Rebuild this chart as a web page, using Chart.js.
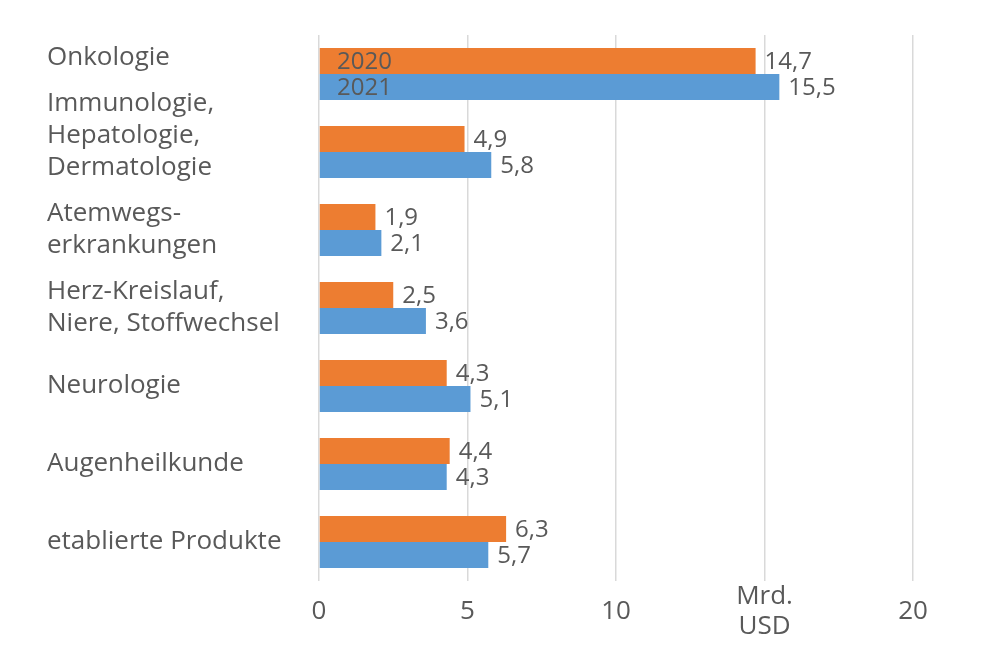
<!DOCTYPE html>
<html>
<head>
<meta charset="utf-8">
<script src="https://cdn.jsdelivr.net/npm/chart.js@4"></script>
<style>
  html, body { margin: 0; padding: 0; background: #fff; }
  #wrap { width: 1000px; height: 662px; }
</style>
</head>
<body>
<div id="wrap"><canvas id="mycanvas" width="1000" height="662"></canvas></div>
<script>
// Umsatz nach Therapiegebiet, Mrd. USD
var categories = [
  ['Onkologie', ''],
  ['Immunologie,', 'Hepatologie,', 'Dermatologie', ''],
  ['Atemwegs-', 'erkrankungen'],
  ['Herz-Kreislauf,', 'Niere, Stoffwechsel'],
  'Neurologie',
  'Augenheilkunde',
  'etablierte Produkte'
];
var values2020 = [14.7, 4.9, 1.9, 2.5, 4.3, 4.4, 6.3];
var values2021 = [15.5, 5.8, 2.1, 3.6, 5.1, 4.3, 5.7];
var seriesNames = ['2020', '2021'];
var xTicks = [0, 5, 10, 15, 20];
var xTickLabels = ['0', '5', '10', ['Mrd.', 'USD'], '20'];

var textColor = '#595959';
var fontFamily = '"Open Sans", "Noto Sans", sans-serif';

function fmt(v) {
  return v.toFixed(1).replace('.', ',');
}

// value labels next to bars + series names inside the first bars
var barLabels = {
  id: 'barLabels',
  afterDatasetsDraw: function(chart) {
    var ctx = chart.ctx;
    ctx.save();
    ctx.fillStyle = textColor;
    ctx.textBaseline = 'middle';
    chart.data.datasets.forEach(function(ds, di) {
      var meta = chart.getDatasetMeta(di);
      meta.data.forEach(function(bar, i) {
        ctx.font = '24px ' + fontFamily;
        ctx.textAlign = 'left';
        ctx.fillText(fmt(ds.data[i]), bar.x + 9, bar.y + 1);
        if (i === 0) {
          ctx.font = '24px ' + fontFamily;
          ctx.fillText(seriesNames[di], chart.chartArea.left + 18, bar.y + 1);
        }
      });
    });
    ctx.restore();
  }
};

var chartdata = {
  labels: categories,
  datasets: [
    {
      label: seriesNames[0],
      backgroundColor: '#ED7D31',
      data: values2020
    },
    {
      label: seriesNames[1],
      backgroundColor: '#5B9BD5',
      data: values2021
    }
  ]
};

var options = {
  indexAxis: 'y',
  responsive: false,
  animation: false,
  layout: { padding: { left: 47, top: 35, right: 87, bottom: 0 } },
  datasets: {
    bar: { barPercentage: 1, categoryPercentage: 0.667 }
  },
  plugins: {
    legend: { display: false },
    tooltip: { enabled: false }
  },
  scales: {
    x: {
      min: 0,
      max: 20,
      afterBuildTicks: function(scale) {
        scale.ticks = xTicks.map(function(v) { return { value: v }; });
      },
      afterFit: function(scale) { scale.height = 81; },
      grid: { color: '#d9d9d9', lineWidth: 1.5, drawTicks: false },
      border: { display: false },
      ticks: {
        crossAlign: 'center',
        padding: 16,
        color: textColor,
        font: { family: fontFamily, size: 26, lineHeight: 1.15 },
        callback: function(v, i) { return xTickLabels[i]; }
      }
    },
    y: {
      grid: { display: false },
      border: { display: false },
      afterFit: function(scale) { scale.width = 272; },
      ticks: {
        autoSkip: false,
        crossAlign: 'far',
        color: textColor,
        font: { family: fontFamily, size: 26, lineHeight: 1.23 }
      }
    }
  }
};

var ctx = document.getElementById('mycanvas');
var barGraph = new Chart(ctx, {
  type: 'bar',
  data: chartdata,
  options: options,
  plugins: [barLabels]
});
</script>
</body>
</html>
